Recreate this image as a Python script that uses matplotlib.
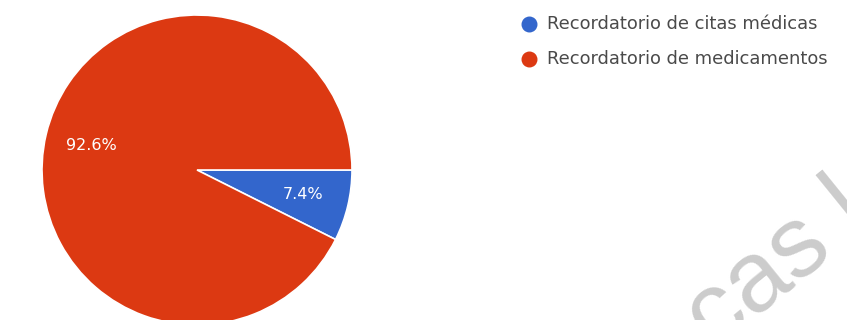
import matplotlib.pyplot as plt

# Reminder types and their share of responses
categories = ["Recordatorio de citas médicas", "Recordatorio de medicamentos"]
shares = [7.4, 92.6]
colors = ["#3366cc", "#dc3912"]

W, H = 847, 320
fig = plt.figure(figsize=(W / 100, H / 100), dpi=100)
ax = fig.add_axes([0, 0, 1, 1])

wedges, texts, autotexts = ax.pie(
    shares,
    colors=colors,
    center=(197, H - 170),
    radius=155,
    startangle=0,
    counterclock=False,
    autopct="%1.1f%%",
    pctdistance=0.7,
    wedgeprops=dict(edgecolor="white", linewidth=1.2),
    textprops=dict(color="white", fontsize=11.5, family="DejaVu Sans"),
)

# legend entries in the upper right
for i, (name, col) in enumerate(zip(categories, colors)):
    y = H - 24 - i * 35
    ax.scatter([529], [y], s=110, color=col, zorder=3)
    ax.text(547, y, name, va="center", ha="left", fontsize=12.9,
            color="#4a4a4a", family="DejaVu Sans")

# faint watermark
ax.text(714, -31, "cas l", rotation=39, rotation_mode="anchor",
        ha="left", va="baseline", fontsize=72, color="#cccccc",
        family="Liberation Sans", zorder=0)

ax.set_xlim(0, W)
ax.set_ylim(0, H)
ax.set_aspect("equal")
ax.axis("off")

fig.savefig("out.png", dpi=100)
